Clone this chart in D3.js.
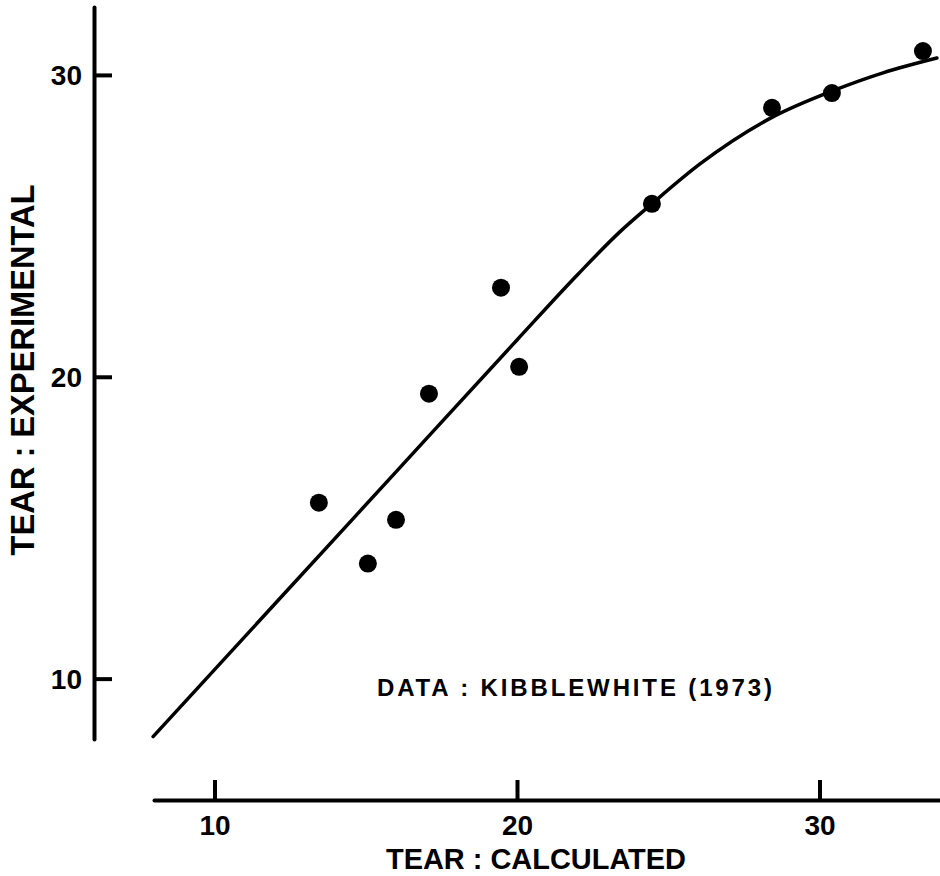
<!DOCTYPE html>
<html>
<head>
<meta charset="utf-8">
<script src="https://cdn.jsdelivr.net/npm/d3@7"></script>
<style>
  html, body { margin: 0; padding: 0; background: #fff; }
  svg { display: block; }
</style>
</head>
<body>
<div id="chart"></div>
<script>
// ---- data ----
const pointX = [13.45, 15.07, 16.0, 17.09, 19.47, 20.07, 24.46, 28.43, 30.41, 33.42];
const pointY = [15.83, 13.81, 15.26, 19.44, 22.95, 20.33, 25.73, 28.91, 29.40, 30.79];
const curveX = [7.97, 12.0, 16.0, 20.0, 22.0, 23.4, 24.46, 26.05, 28.46, 30.45, 32.1, 33.88];
const curveY = [8.08, 12.48, 16.85, 21.22, 23.38, 24.80, 25.73, 27.05, 28.61, 29.48, 30.07, 30.56];
const xTicks = [10, 20, 30];
const yTicks = [10, 20, 30];
const xTitle = "TEAR : CALCULATED";
const yTitle = "TEAR : EXPERIMENTAL";
const note = "DATA : KIBBLEWHITE (1973)";

const W = 940, H = 876;
const svg = d3.select("#chart").append("svg").attr("width", W).attr("height", H);

const x = d3.scaleLinear().domain([8, 34]).range([154, 940.5]);
const y = d3.scaleLinear().domain([8, 32.25]).range([739, 7]);

const font = "'Liberation Sans', Arial, Helvetica, sans-serif";

// y axis
const yAxis = svg.append("g").attr("transform", "translate(94,0)")
  .call(d3.axisLeft(y).tickValues(yTicks).tickSizeInner(-18).tickSizeOuter(0).tickPadding(12).tickFormat(d3.format("d")));
yAxis.select(".domain").attr("stroke", "#000").attr("stroke-width", 4).attr("stroke-linecap", "round");
yAxis.selectAll(".tick line").attr("stroke", "#000").attr("stroke-width", 4);
yAxis.selectAll(".tick text").attr("font-family", font).attr("font-weight", "bold").attr("font-size", 28).attr("fill", "#000").attr("dy", "0.35em");

// x axis
const xAxis = svg.append("g").attr("transform", "translate(0,800)")
  .call(d3.axisBottom(x).tickValues(xTicks).tickSizeInner(-20).tickSizeOuter(0).tickPadding(15).tickFormat(d3.format("d")));
xAxis.select(".domain").attr("stroke", "#000").attr("stroke-width", 4).attr("stroke-linecap", "round");
xAxis.selectAll(".tick line").attr("stroke", "#000").attr("stroke-width", 4);
xAxis.selectAll(".tick text").attr("font-family", font).attr("font-weight", "bold").attr("font-size", 28).attr("fill", "#000");

// curve
const curveData = curveX.map((v, i) => [v, curveY[i]]);
const line = d3.line().x(d => x(d[0])).y(d => y(d[1])).curve(d3.curveMonotoneX);
svg.append("path").datum(curveData).attr("d", line)
  .attr("fill", "none").attr("stroke", "#000").attr("stroke-width", 3.5).attr("stroke-linecap", "round");

// points
const pts = pointX.map((v, i) => [v, pointY[i]]);
svg.append("g").selectAll("circle").data(pts).join("circle")
  .attr("cx", d => x(d[0])).attr("cy", d => y(d[1])).attr("r", 9).attr("fill", "#000");

// titles
svg.append("text").attr("x", 536).attr("y", 869).attr("text-anchor", "middle")
  .attr("font-family", font).attr("font-weight", "bold").attr("font-size", 29)
  .attr("textLength", 300).attr("lengthAdjust", "spacingAndGlyphs").text(xTitle);

svg.append("text").attr("transform", "translate(34,370) rotate(-90)").attr("text-anchor", "middle")
  .attr("font-family", font).attr("font-weight", "bold").attr("font-size", 33)
  .attr("textLength", 371).attr("lengthAdjust", "spacingAndGlyphs").text(yTitle);

svg.append("text").attr("x", 377).attr("y", 696)
  .attr("font-family", font).attr("font-weight", "bold").attr("font-size", 24)
  .attr("textLength", 395).attr("lengthAdjust", "spacing").text(note);
</script>
</body>
</html>
